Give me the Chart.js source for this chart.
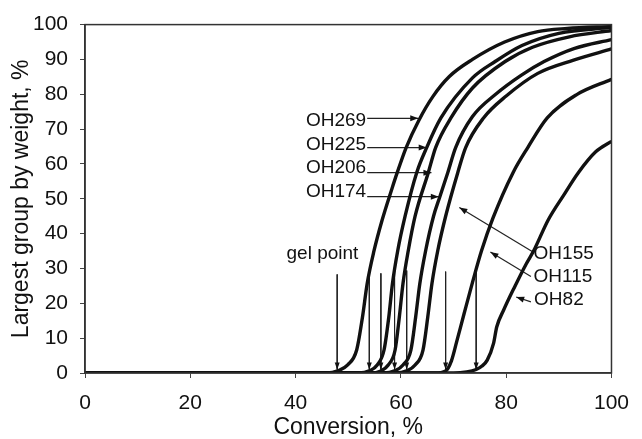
<!DOCTYPE html>
<html>
<head>
<meta charset="utf-8">
<script src="https://cdn.jsdelivr.net/npm/chart.js@4.4.1/dist/chart.umd.min.js"></script>
<style>
  html, body { margin: 0; padding: 0; background: #fff; }
  canvas { display: block; }
</style>
</head>
<body>
<canvas id="chart" width="642" height="439"></canvas>
<script>
// curves: [conversion %, largest group %]
const OH269 = [[0,0],[46,0],[48,0.6],[49.9,2.3],[51.6,6.6],[52.7,16],[53.6,25.7],[54.9,35.1],[56.4,43.7],[58.3,52.9],[59.3,57.5],[61,64.7],[63.4,72.5],[66.1,79.4],[69.2,85.1],[73.6,90],[79.7,95],[86,98],[91.6,98.9],[100,99.5]]
const OH225 = [[0,0],[52,0],[54,0.6],[55.5,2.3],[56.8,6.6],[57.7,16],[58.4,25.7],[59.4,35.1],[60.8,45],[63,57.5],[64.9,64.7],[67.6,73.2],[73.6,84.7],[77.9,89.4],[83,94],[90,97.5],[100,99.2]]
const OH206 = [[0,0],[54.2,0],[56.2,0.6],[57.6,2.3],[58.9,6.6],[59.7,16],[60.4,25.7],[61.4,35.1],[62.7,45],[65.2,57.5],[66.6,64.7],[69.5,73.2],[73.6,81.8],[79.8,89.4],[85,93.5],[92,96.5],[100,98.3]]
const OH174 = [[0,0],[56.8,0],[58.8,0.6],[60.4,2.3],[61.9,6.6],[62.8,16],[63.6,25.7],[64.7,35.1],[66.2,45],[67.4,50.6],[68.9,57.5],[70.4,64.7],[73.6,73.6],[78,80],[82.9,85.5],[87.2,89.4],[93,93.2],[100,95.7]]
const OH155 = [[0,0],[59,0],[61.1,0.6],[62.7,2.3],[64.2,6.6],[65.1,16],[65.9,25.7],[67,35.1],[68.5,45],[70.8,57.5],[72.3,64.7],[75.7,73.2],[80,79.5],[86,86],[92.8,89.8],[100,93]]
const OH115 = [[0,0],[66.5,0],[68.5,0.6],[69.6,3.5],[70.6,9],[72,17],[73.6,26],[75.3,35],[77.5,44.5],[81.3,57.5],[84.1,64.7],[87.8,73.2],[93.4,79.9],[100,84.3]]
const OH82 = [[0,0],[70,0],[72.5,0.3],[74.3,1],[75.4,2],[76.4,3.7],[77.6,8.5],[78.2,13.2],[79.5,18],[81.6,24.7],[83.8,31.3],[85.2,35],[88,44],[90.9,51],[93.7,57.5],[97,63.5],[100,66.5]]

const curves = [OH269, OH225, OH206, OH174, OH155, OH115, OH82]

// gel point arrows (vertical)
const gelX = [47.9, 54.0, 56.2, 58.8, 61.1, 68.5, 74.3]
const gelTop = [28.3, 28.9, 28.6, 29.7, 29.4, 29.1, 29.4]
const gelTip = 1.0

// labels with arrows: text, text anchor, arrow start, arrow tip
const labelText = ["OH269", "OH225", "OH206", "OH174", "OH155", "OH115", "OH82"]
const labelX = [53.4, 53.4, 53.4, 53.4, 85.2, 85.2, 85.3]
const labelY = [72.3, 65.4, 59.0, 52.1, 34.3, 27.5, 20.9]
const labelAlign = ["right", "right", "right", "right", "left", "left", "left"]
const arrowFrom = [[53.6,73.1],[53.6,64.7],[53.6,57.5],[53.6,50.6],[85.1,34.7],[84.7,27.7],[84.7,20.4]]
const arrowTo = [[63.3,73.1],[64.9,64.7],[65.8,57.5],[67.2,50.6],[71.1,47.5],[77.0,34.7],[81.9,21.8]]

const gelLabel = "gel point"
const gelLabelPos = [45.1, 34.3]

const xTicks = [0, 20, 40, 60, 80, 100]
const yTicks = [0, 10, 20, 30, 40, 50, 60, 70, 80, 90, 100]

const FONT = "'Liberation Sans', Arial, sans-serif"
const INK = "#111"

const datasets = []

curves.forEach((c, i) => {
  datasets.push({
    label: labelText[i],
    data: c.map(p => ({ x: p[0], y: p[1] })),
    showLine: true,
    borderColor: INK,
    borderWidth: 3.4,
    pointRadius: 0,
    cubicInterpolationMode: "monotone",
    fill: false
  })
})

gelX.forEach((gx, i) => {
  datasets.push({
    data: [{ x: gx, y: gelTop[i] }, { x: gx, y: gelTip }],
    showLine: true,
    borderColor: "#222",
    borderWidth: 1,
    pointRadius: 0,
    tension: 0,
    arrow: { len: 7, half: 2.5 }
  })
})

arrowFrom.forEach((a, i) => {
  datasets.push({
    data: [{ x: a[0], y: a[1] }, { x: arrowTo[i][0], y: arrowTo[i][1] }],
    showLine: true,
    borderColor: "#222",
    borderWidth: 1.2,
    pointRadius: 0,
    tension: 0,
    arrow: { len: 8, half: 3 }
  })
})

const annotate = {
  id: "annotate",
  afterDatasetsDraw(chart) {
    const { ctx, chartArea } = chart
    const x = chart.scales.x
    const y = chart.scales.y

    ctx.save()
    // frame top / right
    ctx.strokeStyle = "#333"
    ctx.lineWidth = 1.5
    ctx.strokeRect(chartArea.left, chartArea.top, chartArea.right - chartArea.left, chartArea.bottom - chartArea.top)

    // arrow heads
    ctx.fillStyle = "#111"
    chart.data.datasets.forEach((ds, i) => {
      if (!ds.arrow) return
      const pts = chart.getDatasetMeta(i).data
      const a = pts[0], b = pts[1]
      const ang = Math.atan2(b.y - a.y, b.x - a.x)
      const { len, half } = ds.arrow
      ctx.beginPath()
      ctx.moveTo(b.x, b.y)
      ctx.lineTo(b.x - len * Math.cos(ang) + half * Math.sin(ang), b.y - len * Math.sin(ang) - half * Math.cos(ang))
      ctx.lineTo(b.x - len * Math.cos(ang) - half * Math.sin(ang), b.y - len * Math.sin(ang) + half * Math.cos(ang))
      ctx.closePath()
      ctx.fill()
    })

    // labels
    ctx.font = "19px " + FONT
    ctx.textBaseline = "middle"
    ctx.fillStyle = INK
    labelText.forEach((t, i) => {
      ctx.textAlign = labelAlign[i]
      ctx.fillText(t, x.getPixelForValue(labelX[i]), y.getPixelForValue(labelY[i]))
    })
    ctx.textAlign = "center"
    ctx.fillText(gelLabel, x.getPixelForValue(gelLabelPos[0]), y.getPixelForValue(gelLabelPos[1]))
    ctx.restore()
  }
}

new Chart(document.getElementById("chart"), {
  type: "scatter",
  data: { datasets },
  options: {
    responsive: false,
    animation: false,
    layout: { padding: { top: 23, right: 20, left: 0, bottom: 0 } },
    plugins: { legend: { display: false }, tooltip: { enabled: false } },
    scales: {
      x: {
        type: "linear",
        min: 0,
        max: 100,
        afterBuildTicks: s => { s.ticks = xTicks.map(v => ({ value: v })) },
        ticks: { color: INK, font: { family: FONT, size: 21 }, padding: 13, maxRotation: 0 },
        grid: { drawOnChartArea: false, tickLength: 5, color: "#444" },
        border: { color: "#333", width: 1.5 },
        title: { display: true, text: "Conversion, %", color: INK, font: { family: FONT, size: 23, lineHeight: 1 }, padding: { top: 0, bottom: 0 } },
        afterFit: s => { s.height = 66 }
      },
      y: {
        type: "linear",
        min: 0,
        max: 100,
        afterBuildTicks: s => { s.ticks = yTicks.map(v => ({ value: v })) },
        ticks: { color: INK, font: { family: FONT, size: 21 }, padding: 12 },
        grid: { drawOnChartArea: false, tickLength: 5, color: "#444" },
        border: { color: "#333", width: 1.5 },
        title: { display: true, text: "Largest group by weight, %", color: INK, font: { family: FONT, size: 23, lineHeight: 1 }, padding: { top: 10, bottom: 0 } },
        afterFit: s => { s.width = 85 }
      }
    }
  },
  plugins: [annotate]
})
</script>
</body>
</html>
